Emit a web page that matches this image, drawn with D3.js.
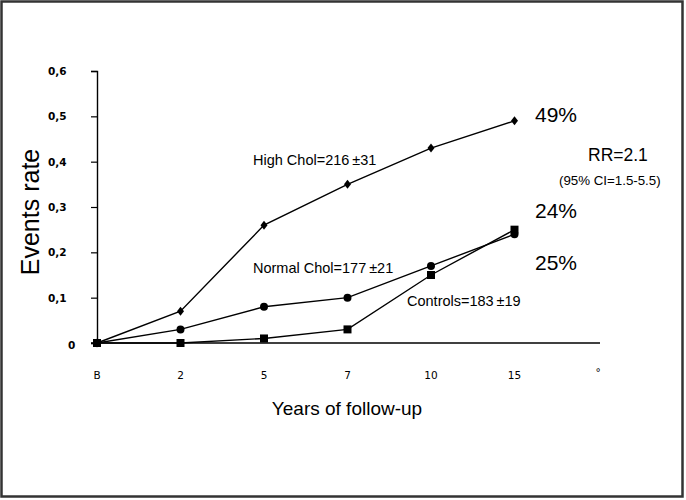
<!DOCTYPE html>
<html>
<head>
<meta charset="utf-8">
<script src="https://cdn.jsdelivr.net/npm/d3@7"></script>
<style>
  body { margin: 0; background: #fff; }
  svg { display: block; }
</style>
</head>
<body>
<div id="chart"></div>
<script>
// follow-up categories (last one is the blank "°" slot on the axis)
const years = ["B", "2", "5", "7", "10", "15", "°"]
const yTicks = [0, 0.1, 0.2, 0.3, 0.4, 0.5, 0.6]

// event rates per group
const highChol   = [0, 0.07, 0.26, 0.35, 0.43, 0.49]
const normalChol = [0, 0.03, 0.08, 0.10, 0.17, 0.24]
const controls   = [0, 0, 0.01, 0.03, 0.15, 0.25]

const width = 686, height = 500

var svg = d3.select("#chart").append("svg")
  .attr("width", width)
  .attr("height", height)

// outer frame
svg.append("rect")
  .attr("x", 1.5).attr("y", 1.5)
  .attr("width", 681).attr("height", 495)
  .attr("fill", "none")
  .attr("stroke", "#333")
  .attr("stroke-width", 2.5)

var x = d3.scalePoint()
  .domain(years)
  .range([97, 598])

var y = d3.scaleLinear()
  .domain([0, 0.6])
  .range([343, 71])

// y axis
var yAxis = svg.append("g")
  .attr("transform", "translate(97,0)")
  .call(d3.axisLeft(y).tickValues(yTicks).tickSize(6).tickPadding(31)
    .tickFormat(d => d === 0 ? "0" : d3.format(".1f")(d).replace(".", ",")))
yAxis.select(".domain").attr("stroke", "#000").attr("stroke-width", 1.4)
yAxis.selectAll(".tick line").attr("stroke", "#000").attr("stroke-width", 1.2)
yAxis.selectAll(".tick text")
  .attr("font-family", "DejaVu Sans, Verdana, sans-serif")
  .attr("font-weight", "bold")
  .attr("font-size", 10.5)
  .attr("fill", "#000")
  .attr("text-anchor", "start")
  .attr("x", -49)
yAxis.selectAll(".tick text").filter(d => d === 0).attr("x", -29).attr("dy", "0.55em")

// x axis: plain line, labels below
svg.append("line")
  .attr("x1", 91).attr("x2", x("°") + 2)
  .attr("y1", y(0)).attr("y2", y(0))
  .attr("stroke", "#000").attr("stroke-width", 1.4)

svg.append("g").selectAll("text")
  .data(years)
  .enter().append("text")
    .attr("x", d => x(d))
    .attr("y", d => d === "°" ? 376 : 379)
    .attr("text-anchor", "middle")
    .attr("font-family", "DejaVu Sans, Verdana, sans-serif")
    .attr("font-size", 10.5)
    .text(d => d)

// series
var series = [
  { name: "high", values: highChol, marker: "diamond" },
  { name: "normal", values: normalChol, marker: "circle" },
  { name: "controls", values: controls, marker: "square" }
]

var line = d3.line()
  .x((d, i) => x(years[i]))
  .y(d => y(d))

series.forEach(s => {
  svg.append("path")
    .datum(s.values)
    .attr("d", line)
    .attr("fill", "none")
    .attr("stroke", "#000")
    .attr("stroke-width", 1.4)

  var g = svg.append("g")
  var pts = g.selectAll("path")
    .data(s.values)
    .enter().append("path")
      .attr("transform", (d, i) => "translate(" + x(years[i]) + "," + y(d) + ")")
      .attr("fill", "#000")
  if (s.marker === "diamond") pts.attr("d", "M0,-4.5L3.5,0L0,4.5L-3.5,0Z")
  if (s.marker === "circle") pts.attr("d", d3.symbol().type(d3.symbolCircle).size(50))
  if (s.marker === "square") pts.attr("d", "M-4,-4H4V4H-4Z")
})

// annotations
var helv = "Liberation Sans, Helvetica, Arial, sans-serif"
function label(txt, lx, ly, size) {
  svg.append("text")
    .attr("x", lx).attr("y", ly)
    .attr("font-family", helv)
    .attr("font-size", size)
    .attr("fill", "#000")
    .text(txt)
}
label("High Chol=216\u2009\u00b131", 253, 165, 14.5)
label("Normal Chol=177\u2009\u00b121", 253, 273, 14.5)
label("Controls=183\u2009\u00b119", 407, 306, 14.5)
label("49%", 535, 122, 21)
label("24%", 535, 218, 21)
label("25%", 535, 270, 21)
label("RR=2.1", 588, 161, 17.5)
label("(95% CI=1.5-5.5)", 559, 185, 13.3)

// axis titles
svg.append("text")
  .attr("transform", "translate(39,212) rotate(-90)")
  .attr("text-anchor", "middle")
  .attr("font-family", helv)
  .attr("font-size", 25)
  .text("Events rate")

svg.append("text")
  .attr("x", 347).attr("y", 415)
  .attr("text-anchor", "middle")
  .attr("font-family", helv)
  .attr("font-size", 19)
  .text("Years of follow-up")
</script>
</body>
</html>
